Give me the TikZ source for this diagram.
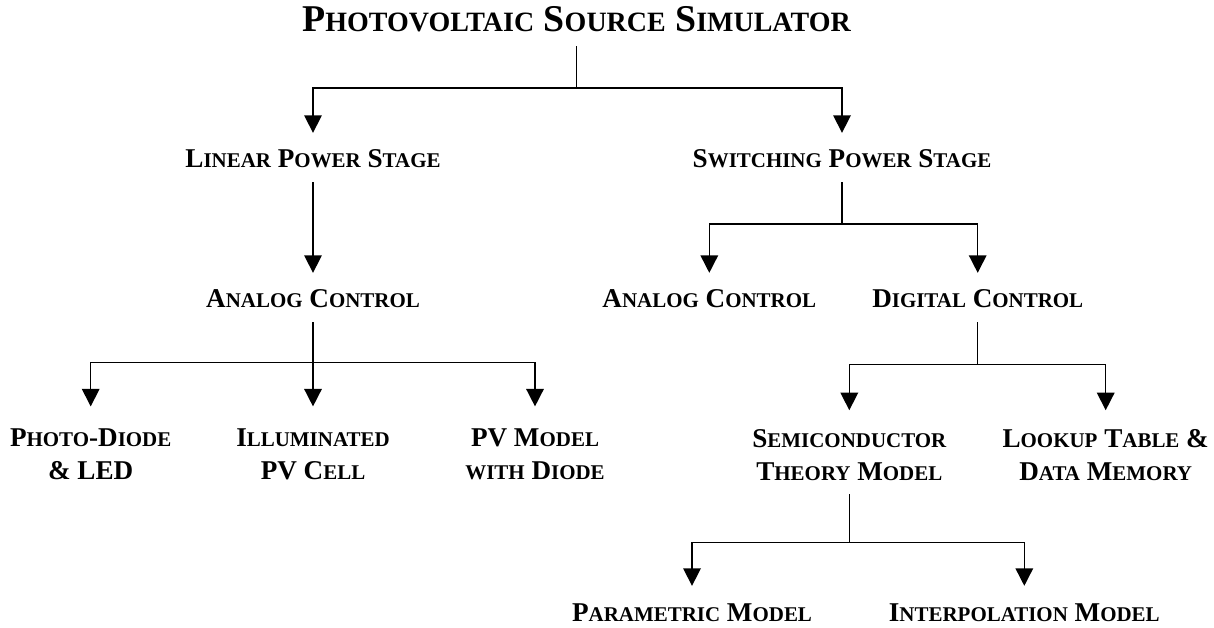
\documentclass[tikz,border=0pt]{standalone}
\usepackage{fontspec}
\setmainfont{Liberation Serif}
\usetikzlibrary{arrows.meta}
% fake small capitals: first letter full size, the rest smaller
\def\lcsize{14.9}
\newcommand{\lc}[1]{{\fontsize{\lcsize}{\lcsize}\selectfont #1}}
\newcommand{\twoline}[2]{\begin{tabular}[t]{@{}c@{}}#1\\#2\end{tabular}}

\begin{document}
\begin{tikzpicture}[x=0.025cm, y=-0.025cm,
  lbl/.style={font=\fontsize{19.3}{23.2}\selectfont\bfseries, inner xsep=0pt,
    inner ysep=10pt, text height=12.8pt, text depth=0pt, anchor=base},
  lbl2/.style={lbl, text depth=23.1pt},
  ttl/.style={lbl, font=\fontsize{26.9}{32}\selectfont\bfseries\def\lcsize{19.9},
    text height=17.8pt},
  link/.style={line width=1.1pt},
  arr/.style={link, -{Triangle[length=12.5pt,width=12.5pt]}, shorten >=2pt}]
\useasboundingbox (0,0) rectangle (1214,628);
\def\yjA{88}\def\yjB{224}\def\yjC{362.5}\def\yjD{364.5}\def\yjE{542.5}
% level 0
\node[ttl] (pvs) at (576.5,32) {P\lc{HOTOVOLTAIC} S\lc{OURCE} S\lc{IMULATOR}};
% level 1
\node[lbl] (lin) at (313,168) {L\lc{INEAR} P\lc{OWER} S\lc{TAGE}};
\node[lbl] (sw) at (842,168) {S\lc{WITCHING} P\lc{OWER} S\lc{TAGE}};
% level 2
\node[lbl] (anaL) at (313,308) {A\lc{NALOG} C\lc{ONTROL}};
\node[lbl] (anaR) at (709.3,308) {A\lc{NALOG} C\lc{ONTROL}};
\node[lbl] (dig) at (977.7,308) {D\lc{IGITAL} C\lc{ONTROL}};
% level 3
\node[lbl2] (photo) at (90.7,446.5) {\twoline{P\lc{HOTO}-D\lc{IODE}}{\& LED}};
\node[lbl2] (illum) at (313,446.5) {\twoline{I\lc{LLUMINATED}}{PV C\lc{ELL}}};
\node[lbl2] (pvm) at (535,446.5) {\twoline{PV M\lc{ODEL}}{\lc{WITH} D\lc{IODE}}};
\node[lbl2] (semi) at (849.3,447.5) {\twoline{S\lc{EMICONDUCTOR}}{T\lc{HEORY} M\lc{ODEL}}};
\node[lbl2] (look) at (1105.7,447.5) {\twoline{L\lc{OOKUP} T\lc{ABLE} \&}{D\lc{ATA} M\lc{EMORY}}};
% level 4
\node[lbl] (par) at (692,621) {P\lc{ARAMETRIC} M\lc{ODEL}};
\node[lbl] (intp) at (1024.3,621) {I\lc{NTERPOLATION} M\lc{ODEL}};
% connectors
\draw[link] (pvs.south) -- (pvs.south |- 0,\yjA);
\foreach \c in {lin,sw}
  \draw[arr] (pvs.south |- 0,\yjA) -| (\c.north);
\draw[arr] (lin.south) -- (anaL.north);
\draw[link] (sw.south) -- (sw.south |- 0,\yjB);
\foreach \c in {anaR,dig}
  \draw[arr] (sw.south |- 0,\yjB) -| (\c.north);
\draw[link] (anaL.south) -- (anaL.south |- 0,\yjC);
\foreach \c in {photo,illum,pvm}
  \draw[arr, shorten >=5.5pt] (anaL.south |- 0,\yjC) -| (\c.north);
\draw[link] (dig.south) -- (dig.south |- 0,\yjD);
\foreach \c in {semi,look}
  \draw[arr, shorten >=3.5pt] (dig.south |- 0,\yjD) -| (\c.north);
\draw[link] (semi.south) -- (semi.south |- 0,\yjE);
\foreach \c in {par,intp}
  \draw[arr] (semi.south |- 0,\yjE) -| (\c.north);
\end{tikzpicture}
\end{document}
